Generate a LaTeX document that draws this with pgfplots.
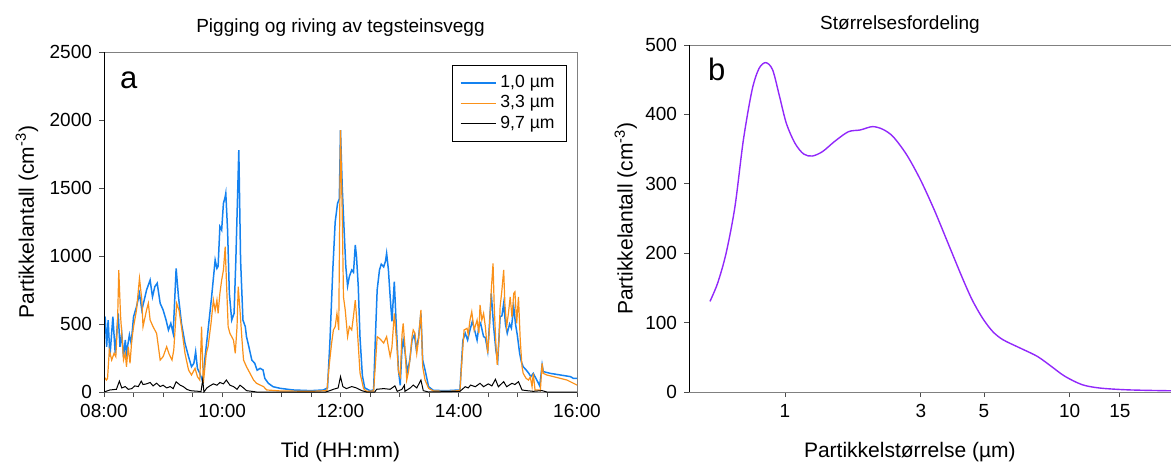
\documentclass[border=0pt]{standalone}
\usepackage{fontspec}
\setmainfont{Liberation Sans}
\usepackage{pgfplots}
\pgfplotsset{compat=1.18}

\definecolor{cblue}{RGB}{20,130,240}
\definecolor{corange}{RGB}{250,145,25}
\definecolor{cpurple}{RGB}{145,40,250}

\pgfplotsset{
  myax/.style={
    scale only axis,
    anchor=south west,
    axis line style={black!50},
    tick align=outside,
    tickpos=left,
    major tick length=2.5pt,
    minor tick length=2.5pt,
    every tick/.style={black!70},
    tick label style={font=\fontsize{9.5}{11}\selectfont},
    /pgf/number format/assume math mode=true,
    /pgf/number format/1000 sep={},
    scaled ticks=false,
    label style={font=\fontsize{10.5}{12}\selectfont},
    title style={font=\fontsize{9.5}{11}\selectfont},
  }
}

\begin{document}
\begin{tikzpicture}

% venstre: tidsserie
\begin{axis}[myax,
  at={(52pt,35.5pt)}, width=236.5pt, height=170pt,
  xmin=8, xmax=16, ymin=0, ymax=2500,
  xtick={8,10,12,14,16},
  xticklabels={08:00,10:00,12:00,14:00,16:00},
  minor xtick={8.5,9,...,15.5},
  ytick={0,500,...,2500},
  title={Pigging og riving av tegsteinsvegg},
  title style={at={(0.5,1)}, anchor=south, yshift=-1.5pt},
  xlabel={Tid (HH:mm)},
  xlabel style={at={(axis description cs:0.5,0)}, anchor=center, yshift=-30pt},
  ylabel={Partikkelantall (cm\textsuperscript{-3})},
  ylabel style={at={(axis description cs:-0.163,0.5)}, anchor=center},
  legend style={at={(rel axis cs:1,1)}, anchor=north east, xshift=-5pt, yshift=-6.5pt,
    draw=black, font=\fontsize{8.8}{9}\selectfont, row sep=-1.5pt,
    inner xsep=4pt, inner ysep=3pt},
  legend cell align=left,
  legend image code/.code={\draw[#1, line width=0.7pt] (0pt,0pt) -- (17.5pt,0pt);},
]
\addplot[cblue, line width=0.75pt] coordinates {
(8.00,554)(8.02,550)(8.045,333)(8.07,529)(8.10,260)(8.15,554)(8.19,284)(8.24,578)(8.27,333)(8.30,431)
(8.33,260)(8.36,382)(8.38,284)(8.43,420)(8.46,358)(8.50,554)(8.55,627)(8.60,725)(8.64,603)(8.68,676)
(8.72,750)(8.78,823)(8.82,700)(8.86,775)(8.90,800)(8.95,652)(9.00,603)(9.05,529)(9.09,456)(9.13,505)
(9.17,431)(9.22,909)(9.26,700)(9.31,505)(9.37,358)(9.43,260)(9.48,186)(9.52,211)(9.55,296)(9.58,174)
(9.62,137)(9.67,76)(9.71,260)(9.76,456)(9.82,700)(9.88,971)(9.91,909)(9.93,925)(9.96,1216)(9.99,1191)
(10.02,1387)(10.05,1436)(10.06,1461)(10.09,1191)(10.12,725)(10.16,529)(10.20,578)(10.23,971)(10.28,1779)(10.31,971)
(10.35,529)(10.39,480)(10.41,407)(10.45,333)(10.50,235)(10.55,211)(10.59,160)(10.64,174)(10.69,162)(10.72,100)
(10.78,64)(10.86,39)(10.98,27)(11.2,15)(11.5,10)(11.71,15)(11.78,30)(11.82,360)(11.87,900)(11.91,1250)
(11.95,1387)(11.98,1420)(12.00,1926)(12.03,1500)(12.06,1200)(12.09,921)(12.12,780)(12.15,850)(12.19,897)(12.22,880)
(12.25,1081)(12.27,1000)(12.30,780)(12.33,400)(12.37,120)(12.41,30)(12.50,10)(12.56,15)(12.59,400)(12.62,750)
(12.66,900)(12.69,940)(12.73,920)(12.76,960)(12.78,1020)(12.81,900)(12.84,700)(12.87,520)(12.91,811)(12.94,520)
(12.98,162)(13.01,50)(13.04,320)(13.06,382)(13.09,300)(13.13,150)(13.17,230)(13.21,382)(13.25,420)(13.28,320)
(13.32,400)(13.36,578)(13.39,235)(13.43,162)(13.49,39)(13.57,12)(13.8,10)(14.02,15)(14.07,380)(14.11,432)
(14.15,382)(14.19,456)(14.23,520)(14.26,470)(14.31,382)(14.34,480)(14.37,505)(14.42,407)(14.45,400)(14.49,300)
(14.52,500)(14.55,725)(14.59,480)(14.63,300)(14.66,235)(14.70,554)(14.73,560)(14.76,652)(14.79,500)(14.82,432)
(14.86,500)(14.89,470)(14.93,627)(14.96,500)(14.99,420)(15.03,284)(15.06,220)(15.09,186)(15.14,162)(15.18,140)
(15.22,113)(15.26,137)(15.32,88)(15.37,45)(15.41,200)(15.43,150)(15.55,137)(15.72,125)(15.89,113)(15.94,100)
(16.0,100)
};
\addlegendentry{1,0 µm}
\addplot[corange, line width=0.6pt] coordinates {
(8.00,113)(8.04,88)(8.06,100)(8.09,309)(8.13,235)(8.17,284)(8.20,260)(8.23,529)(8.25,897)(8.28,560)
(8.30,431)(8.33,235)(8.36,284)(8.38,186)(8.41,333)(8.44,211)(8.47,382)(8.50,480)(8.55,603)(8.60,836)
(8.64,676)(8.66,480)(8.72,603)(8.75,652)(8.78,530)(8.83,480)(8.89,431)(8.95,235)(9.00,260)(9.06,333)
(9.10,280)(9.15,235)(9.18,309)(9.23,652)(9.27,600)(9.31,480)(9.37,284)(9.43,162)(9.48,125)(9.54,174)
(9.58,113)(9.62,88)(9.65,480)(9.68,64)(9.73,284)(9.76,333)(9.81,505)(9.85,676)(9.88,600)(9.91,676)
(9.93,578)(9.96,725)(9.99,823)(10.02,897)(10.05,1069)(10.07,823)(10.10,480)(10.13,431)(10.19,382)(10.22,284)
(10.25,480)(10.27,774)(10.30,603)(10.33,407)(10.36,235)(10.41,186)(10.47,137)(10.53,88)(10.58,64)(10.70,39)
(10.75,15)(10.98,8)(11.5,5)(11.77,10)(11.81,200)(11.85,360)(11.88,456)(11.91,480)(11.94,578)(11.97,456)
(12.00,1926)(12.03,1300)(12.05,700)(12.08,603)(12.12,407)(12.15,480)(12.19,456)(12.22,560)(12.25,676)(12.27,560)
(12.30,350)(12.33,140)(12.39,25)(12.44,5)(12.56,8)(12.59,200)(12.62,407)(12.67,390)(12.73,360)(12.78,407)
(12.81,330)(12.84,260)(12.87,330)(12.91,578)(12.95,360)(12.98,150)(13.01,113)(13.04,420)(13.06,505)(13.09,333)
(13.12,88)(13.15,150)(13.18,260)(13.21,407)(13.23,456)(13.26,432)(13.29,284)(13.32,382)(13.36,603)(13.39,186)
(13.43,88)(13.49,27)(13.57,8)(13.8,5)(14.02,10)(14.05,211)(14.09,456)(14.14,468)(14.16,420)(14.19,529)
(14.22,590)(14.26,456)(14.31,529)(14.34,432)(14.36,640)(14.39,529)(14.42,578)(14.45,480)(14.49,284)(14.52,480)
(14.55,750)(14.58,946)(14.60,627)(14.63,333)(14.65,200)(14.68,382)(14.70,627)(14.73,750)(14.76,897)(14.78,650)
(14.81,480)(14.84,578)(14.87,700)(14.90,550)(14.93,725)(14.95,737)(14.98,505)(15.01,700)(15.04,382)(15.07,186)
(15.09,137)(15.14,100)(15.18,88)(15.21,110)(15.24,39)(15.26,137)(15.29,15)(15.35,15)(15.38,10)(15.41,211)
(15.43,137)(15.49,125)(15.60,113)(15.72,100)(15.83,88)(15.94,64)(16.0,51)
};
\addlegendentry{3,3 µm}
\addplot[black, line width=0.5pt] coordinates {
(8.00,0)(8.10,15)(8.21,20)(8.26,80)(8.30,30)(8.36,40)(8.41,20)(8.47,25)(8.52,45)(8.58,40)
(8.63,80)(8.66,55)(8.72,60)(8.78,70)(8.83,45)(8.89,65)(8.95,40)(9.00,50)(9.06,30)(9.12,40)
(9.17,25)(9.22,75)(9.29,50)(9.34,40)(9.40,20)(9.46,10)(9.51,8)(9.60,5)(9.64,2)(9.67,90)
(9.69,0)(9.74,30)(9.79,45)(9.85,60)(9.91,50)(9.96,70)(10.02,60)(10.07,88)(10.13,50)(10.19,40)
(10.25,20)(10.30,50)(10.36,30)(10.41,10)(10.50,5)(10.58,0)(11.75,0)(11.82,10)(11.88,20)(11.96,30)
(12.00,113)(12.04,40)(12.10,25)(12.19,40)(12.27,30)(12.36,10)(12.44,0)(12.58,0)(12.61,20)(12.73,25)
(12.84,20)(12.92,45)(12.96,5)(13.04,20)(13.08,50)(13.09,5)(13.18,30)(13.23,51)(13.29,30)(13.36,88)
(13.40,10)(13.49,0)(14.02,5)(14.11,39)(14.16,30)(14.20,51)(14.28,39)(14.36,64)(14.42,39)(14.50,60)
(14.56,45)(14.62,93)(14.67,39)(14.76,76)(14.81,39)(14.90,64)(14.95,55)(15.01,76)(15.07,15)(15.15,10)
(15.26,5)(15.41,10)(15.49,0)(16.0,0)
};
\addlegendentry{9,7 µm}
\draw[black] (rel axis cs:0,0) -- (rel axis cs:0,1);
\node[anchor=base west, font=\fontsize{15.5}{16}\selectfont] at (rel axis cs:0,1) [xshift=4.5pt, yshift=-18pt] {a};
\end{axis}

% høyre: størrelsesfordeling
\begin{axis}[myax,
  at={(344.5pt,35.5pt)}, width=247pt, height=173.5pt,
  xmode=log, xmin=0.46, xmax=25, ymin=0, ymax=500,
  xtick={1,3,5,10,15},
  xticklabels={1,3,5,10,15},
  ytick={0,100,...,500},
  title={Størrelsesfordeling},
  title style={at={(0.427,1)}, anchor=south, yshift=-4pt},
  xlabel={Partikkelstørrelse (µm)},
  xlabel style={at={(axis description cs:0.447,0)}, anchor=center, yshift=-30pt},
  ylabel={Partikkelantall (cm\textsuperscript{-3})},
  ylabel style={at={(axis description cs:-0.128,0.5)}, anchor=center},
]
\addplot[cpurple, line width=0.7pt, smooth, tension=0.5] coordinates {
(0.545,130.5)(0.580,157)(0.621,200)(0.667,267)(0.714,363)(0.766,435)(0.810,466)(0.856,474.6)
(0.905,464)(0.957,425.6)(1.011,387)(1.084,358.4)(1.162,343)(1.246,340)(1.354,346.4)(1.493,361)
(1.668,375)(1.839,377.6)(2.027,382.4)(2.203,378.6)(2.396,368)(2.676,341.7)(2.991,305.7)(3.343,262.5)
(3.737,214.5)(4.176,166.5)(4.54,133)(4.94,106.5)(5.36,87.3)(5.83,75.3)(6.70,63.3)(7.70,51.3)
(8.61,37)(9.62,22.6)(11.05,10.6)(12.7,5.8)(15.4,3.4)(18.6,2.4)(25,1.5)
};
\draw[black] (rel axis cs:0,0) -- (rel axis cs:0,1);
\node[anchor=base west, font=\fontsize{15.5}{16}\selectfont] at (rel axis cs:0,1) [xshift=6pt, yshift=-17.5pt] {b};
\end{axis}

\pgfresetboundingbox
\useasboundingbox (0,0) rectangle (585.5pt,231.5pt);
\end{tikzpicture}
\end{document}
